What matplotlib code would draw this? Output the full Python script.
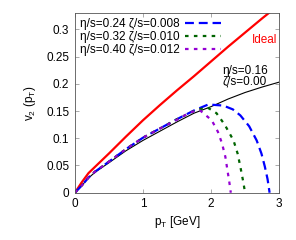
import matplotlib
matplotlib.use("Agg")
import matplotlib.pyplot as plt

plt.rcParams["font.family"] = ["Liberation Sans", "DejaVu Sans"]

# 数据
pt_ideal = [0, 0.1, 0.2, 0.3, 0.5, 0.75, 1.0, 1.25, 1.5, 1.75, 2.0, 2.25, 2.5, 2.75, 2.9]
v2_ideal = [0, 0.019, 0.036, 0.048, 0.072, 0.103, 0.133, 0.161, 0.188, 0.214, 0.241, 0.268, 0.294, 0.320, 0.335]

pt_visc = [0, 0.1, 0.2, 0.3, 0.5, 0.75, 1.0, 1.25, 1.5, 1.75, 2.0, 2.25, 2.5, 2.75, 3.0]
v2_visc = [0, 0.013, 0.027, 0.038, 0.055, 0.077, 0.096, 0.113, 0.130, 0.146, 0.158, 0.172, 0.184, 0.194, 0.203]

pt_a = [0, 0.1, 0.2, 0.3, 0.5, 0.75, 1.0, 1.25, 1.5, 1.75, 1.96, 2.18, 2.32, 2.43, 2.56, 2.67, 2.74, 2.79, 2.83, 2.86]
v2_a = [0, 0.013, 0.028, 0.039, 0.057, 0.080, 0.101, 0.118, 0.135, 0.151, 0.162, 0.160, 0.153, 0.142, 0.122, 0.096, 0.072, 0.048, 0.025, 0.0]

pt_b = [0, 0.1, 0.2, 0.3, 0.5, 0.75, 1.0, 1.25, 1.5, 1.75, 1.94, 2.08, 2.2, 2.33, 2.39, 2.43, 2.47, 2.5]
v2_b = [0, 0.013, 0.028, 0.039, 0.057, 0.080, 0.101, 0.118, 0.135, 0.150, 0.157, 0.146, 0.125, 0.096, 0.072, 0.048, 0.022, 0.0]

pt_c = [0, 0.1, 0.2, 0.3, 0.5, 0.75, 1.0, 1.25, 1.5, 1.7, 1.84, 2.01, 2.1, 2.16, 2.21, 2.24, 2.27, 2.29]
v2_c = [0, 0.013, 0.028, 0.039, 0.057, 0.080, 0.101, 0.118, 0.134, 0.148, 0.151, 0.133, 0.112, 0.091, 0.066, 0.042, 0.018, 0.0]

labels = ["η/s=0.24 ζ/s=0.008", "η/s=0.32 ζ/s=0.010", "η/s=0.40 ζ/s=0.012"]
x_ticks = [0, 1, 2, 3]
y_ticks = [0, 0.05, 0.1, 0.15, 0.2, 0.25, 0.3]
y_tick_labels = ["0", "0.05", "0.1", "0.15", "0.2", "0.25", "0.3"]

fs = 8.5

# 创建画布
fig = plt.figure(figsize=(2.96, 2.4), dpi=100)
ax = fig.add_axes([0.253, 0.197, 0.690, 0.749])

ax.plot(pt_visc, v2_visc, color="black", lw=0.8)
ax.plot(pt_ideal, v2_ideal, color="red", lw=1.6)
ax.plot(pt_a, v2_a, color="blue", lw=1.6, dashes=(4, 2.2), label=labels[0])
ax.plot(pt_b, v2_b, color="#006400", lw=1.6, dashes=(1.6, 2.4), label=labels[1])
ax.plot(pt_c, v2_c, color="#9400d3", lw=1.6, dashes=(1.6, 2.4), label=labels[2])

ax.text(2.78, 0.281, "Ideal", color="red", fontsize=fs, ha="center", va="center")
ax.text(2.17, 0.214, "η/s=0.16\nζ/s=0.00", color="black", fontsize=fs,
        ha="left", va="center", linespacing=0.9)

ax.set_xlim(0, 3)
ax.set_ylim(0, 0.33)
ax.set_xticks(x_ticks)
ax.set_yticks(y_ticks)
ax.set_yticklabels(y_tick_labels)
ax.tick_params(direction="in", top=True, right=True, labelsize=fs, length=3,
               width=0.5, color="#888888", pad=4)
for s in ax.spines.values():
    s.set_linewidth(0.6)
    s.set_color("#555555")

ax.set_xlabel("p$_\\mathregular{T}$ [GeV]", fontsize=fs, labelpad=3)
ax.set_ylabel("v$_\\mathregular{2}$ (p$_\\mathregular{T}$)", fontsize=fs, labelpad=6)

ax.legend(loc="upper left", frameon=False, markerfirst=False, fontsize=fs,
          handlelength=3.0, handletextpad=0.5, labelspacing=0.1,
          borderaxespad=0.1, borderpad=0.3)

fig.savefig("out.png", dpi=100)
